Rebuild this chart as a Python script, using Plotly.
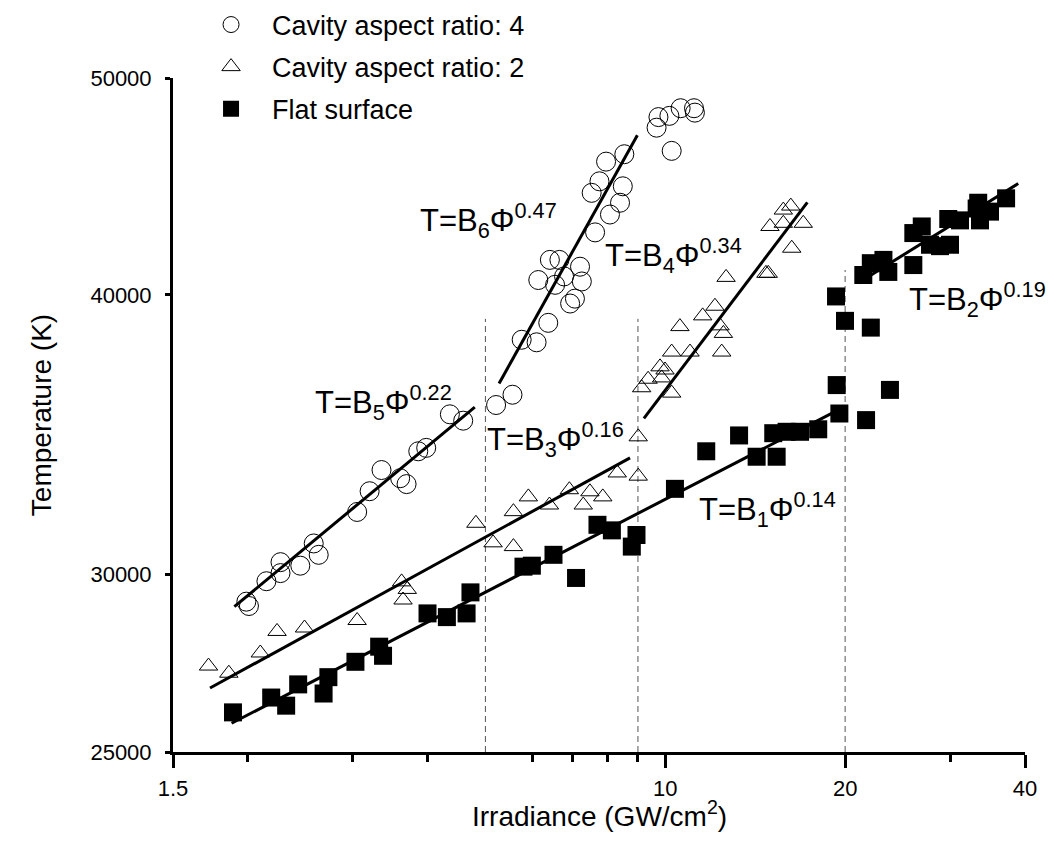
import math
import plotly.graph_objects as go

# ---------------- data ----------------
# Cavity aspect ratio 4 (open circles)
ar4_x = [1.99, 2.01, 2.15, 2.27, 2.27, 2.45, 2.58, 2.63,
         3.05, 3.20, 3.35, 3.60, 3.69, 3.86, 3.98, 4.36, 4.59,
         5.21, 5.55, 5.75, 6.09, 6.37, 6.93, 7.06, 6.13, 6.54, 6.77, 6.41, 6.65, 7.20, 7.25, 7.63, 8.08, 8.40,
         7.53, 7.76, 8.49, 7.96, 8.54, 10.25, 9.67, 9.74, 10.16, 10.61, 11.17, 11.21]
ar4_T = [29180, 29050, 29800, 30390, 30050, 30280, 30980, 30620,
         32000, 32690, 33410, 33130, 32930, 34060, 34180, 35380, 35150,
         35720, 36100, 38200, 38100, 38870, 39650, 39850, 40620, 40420, 40770, 41470, 41470, 41180, 40560, 42660, 43450, 43980,
         44430, 44960, 44730, 45880, 46230, 46390, 47510, 48030, 48090, 48470, 48470, 48250]

# Cavity aspect ratio 2 (open triangles)
ar2_x = [1.72, 1.86, 2.10, 2.24, 2.49, 3.05, 3.62, 3.70, 3.64,
         4.82, 5.15, 5.57, 5.57, 5.90, 6.40, 6.91, 7.29, 7.48, 7.86, 8.31,
         9.01, 9.01, 9.13, 9.36, 9.86, 9.80, 9.99,
         10.25, 10.25, 11.0, 10.58, 11.55, 12.11, 12.35, 12.51, 12.43, 12.64,
         14.74, 14.87, 14.97, 15.76, 15.76, 16.22, 17.02, 16.28]
ar2_T = [27310, 27110, 27680, 28300, 28400, 28620, 29780, 29550, 29230,
         31630, 31000, 32010, 30880, 32500, 32230, 32740, 32230, 32670, 32500, 33310,
         33200, 34570, 36360, 36680, 36730, 37150, 37030,
         36160, 37720, 37720, 38720, 39150, 39540, 38750, 38450, 37720, 40730,
         40900, 40900, 42920, 43060, 43650, 43830, 43060, 41970]

# Flat surface (filled squares)
flat_x = [1.89, 2.19, 2.32, 2.43, 2.68, 2.73, 3.03, 3.32, 3.37,
          4.00, 4.31, 4.65, 4.72,
          5.79, 5.98, 6.50, 7.09, 7.70, 8.14, 8.95, 8.79,
          10.38, 11.71, 13.29, 14.22, 15.36, 15.16, 15.96, 16.81, 18.03, 19.56, 19.36,
          21.68, 19.31, 19.99, 22.08, 23.77, 21.45, 22.08, 23.18, 23.62,
          26.01, 26.01, 26.87, 27.74, 28.83, 29.96, 29.76, 31.14, 33.20, 33.63, 34.95, 33.40, 37.19]
flat_T = [26040, 26440, 26220, 26800, 26550, 27000, 27430, 27860, 27600,
          28830, 28720, 28830, 29460,
          30250, 30280, 30620, 29900, 31580, 31400, 31250, 30880,
          32770, 34060, 34620, 33870, 33870, 34700, 34750, 34750, 34840, 35410, 36460,
          35170, 39940, 38950, 38680, 36280, 40830, 41330, 41470, 40960,
          41250, 42630, 42920, 42120, 42060, 42120, 43250, 43190, 43720, 43190, 43580, 43980, 44180]

# Power-law fit segments T = B * Phi^n (end points)
fit_x = {
    "B5": [1.90, 4.80], "B6": [5.27, 8.98],
    "B3": [1.73, 8.73], "B4": [9.21, 17.29],
    "B1": [1.88, 19.56], "B2": [21.04, 38.97],
}
fit_T = {
    "B5": [29030, 35640], "B6": [36520, 47140],
    "B3": [26700, 33830], "B4": [35230, 44000],
    "B1": [25750, 35560], "B2": [40500, 44860],
}

# Regime boundaries (dashed vertical lines)
bound_x = [5, 9, 20]
bound_top = [39030, 39030, 41040]

# Fit labels: text, left x, middle y (data units)
label_text = ["T=B<sub>6</sub>Φ<sup>0.47</sup>", "T=B<sub>4</sub>Φ<sup>0.34</sup>",
              "T=B<sub>5</sub>Φ<sup>0.22</sup>", "T=B<sub>3</sub>Φ<sup>0.16</sup>",
              "T=B<sub>1</sub>Φ<sup>0.14</sup>", "T=B<sub>2</sub>Φ<sup>0.19</sup>"]
label_x = [3.86, 7.87, 2.57, 4.99, 11.3, 25.4]
label_T = [43200, 41650, 35800, 34490, 32070, 39800]

x_ticks = [1.5, 10, 20, 40]
x_minor = [2, 3, 4, 6, 7, 8, 9, 30]
y_ticks = [25000, 30000, 40000, 50000]
y_major = [25000, 50000]

x_title = "Irradiance (GW/cm<sup>2</sup>)"
y_title = "Temperature (K)"

FONT = "Arial, 'Liberation Sans', sans-serif"

fig = go.Figure()

# dashed boundaries
for bx, bt in zip(bound_x, bound_top):
    fig.add_trace(go.Scatter(x=[bx, bx], y=[25000, bt], mode="lines",
                             line=dict(color="#555555", width=1, dash="6px,4px"),
                             showlegend=False, hoverinfo="skip"))

# fit lines
for k in fit_x:
    fig.add_trace(go.Scatter(x=fit_x[k], y=fit_T[k], mode="lines",
                             line=dict(color="black", width=3),
                             showlegend=False, hoverinfo="skip"))

fig.add_trace(go.Scatter(x=ar4_x, y=ar4_T, mode="markers", name="Cavity aspect ratio: 4",
                         legendgroup="a",
                         marker=dict(symbol="circle-open", size=19, color="black",
                                     line=dict(width=1, color="black"))))
fig.add_trace(go.Scatter(x=ar2_x, y=ar2_T, mode="markers", name="Cavity aspect ratio: 2",
                         legendgroup="b",
                         marker=dict(symbol="triangle-up-open", size=16, color="black",
                                     line=dict(width=1, color="black"))))
fig.add_trace(go.Scatter(x=flat_x, y=flat_T, mode="markers", name="Flat surface",
                         legendgroup="c",
                         marker=dict(symbol="square", size=18, color="black",
                                     line=dict(width=0))))

for t, lx, ly in zip(label_text, label_x, label_T):
    fig.add_annotation(x=math.log10(lx), y=math.log10(ly), xref="x", yref="y",
                       text=t, showarrow=False, xanchor="left", yanchor="middle",
                       font=dict(family=FONT, size=31, color="black"))

# x-axis title
fig.add_annotation(x=0.5, y=-0.063, xref="paper", yref="paper", text=x_title,
                   showarrow=False, xanchor="center", yanchor="top",
                   font=dict(family=FONT, size=28, color="black"))

fig.update_layout(
    width=1058, height=846,
    margin=dict(l=173, r=33, t=78, b=94, autoexpand=False),
    paper_bgcolor="white", plot_bgcolor="white",
    font=dict(family=FONT, color="black"),
    xaxis=dict(type="log", range=[math.log10(1.5), math.log10(40)],
               tickmode="array", tickvals=x_ticks, ticktext=[str(v) for v in x_ticks],
               ticks="outside", ticklen=13, tickwidth=3, tickcolor="black",
               ticklabelstandoff=2,
               showline=True, linewidth=3, linecolor="black",
               showgrid=False, zeroline=False,
               minor=dict(tickmode="array", tickvals=x_minor, ticks="outside",
                          ticklen=7, tickwidth=3, tickcolor="black", showgrid=False),
               tickfont=dict(family=FONT, size=22, color="black")),
    yaxis=dict(type="log", range=[math.log10(25000), math.log10(50000)],
               tickmode="array", tickvals=y_ticks, ticktext=[str(v) for v in y_ticks],
               ticks="outside", ticklen=5, tickwidth=3, tickcolor="black",
               ticklabelstandoff=9,
               showline=True, linewidth=3, linecolor="black",
               showgrid=False, zeroline=False,
               tickfont=dict(family=FONT, size=22, color="black"),
               title=dict(text=y_title, standoff=31,
                          font=dict(family=FONT, size=28, color="black"))),
    yaxis2=dict(type="log", range=[math.log10(25000), math.log10(50000)],
                overlaying="y", side="left", anchor="x",
                tickmode="array", tickvals=y_major, ticks="outside", ticklen=13,
                tickwidth=3, tickcolor="black", showticklabels=False,
                showline=False, showgrid=False, zeroline=False),
    legend=dict(x=0.02, y=1.115, xanchor="left", yanchor="top",
                bgcolor="rgba(0,0,0,0)", borderwidth=0,
                font=dict(family=FONT, size=27, color="black"),
                itemwidth=72, traceorder="grouped", tracegroupgap=4),
    showlegend=True,
)

fig.write_html("out.html", config={"displayModeBar": False},
               post_script="document.body.style.margin='0px';")
